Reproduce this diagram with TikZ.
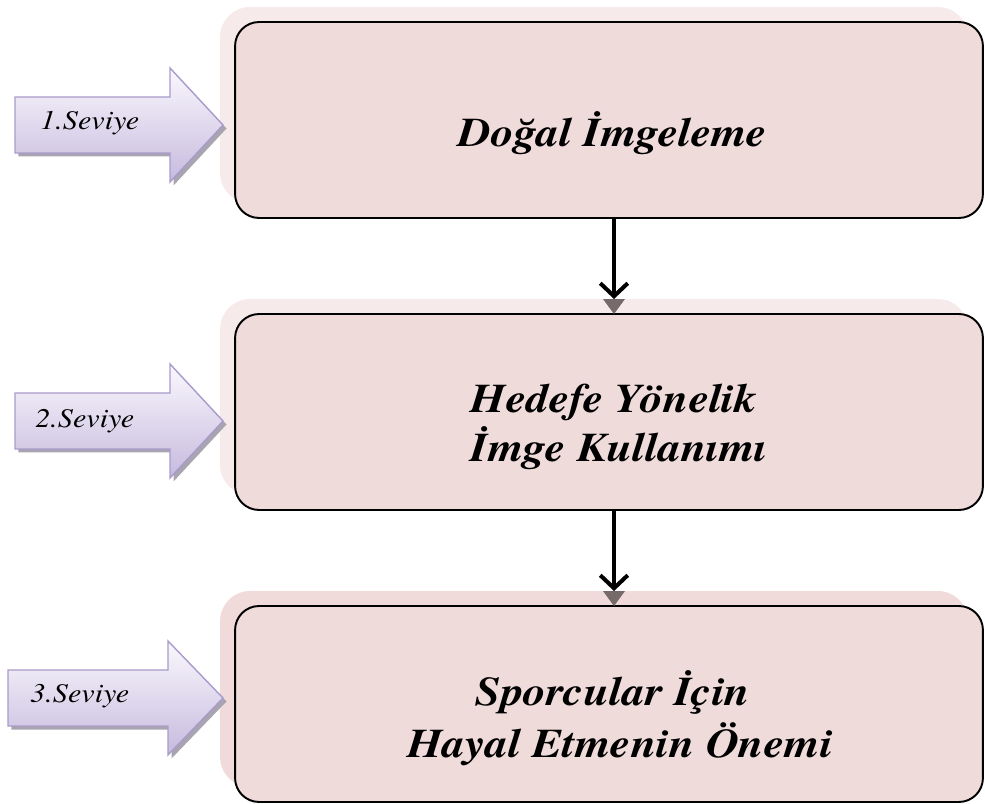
\documentclass[tikz,border=0pt]{standalone}
\usepackage{fontspec}
\setmainfont{texgyretermes}[Extension=.otf, UprightFont=*-regular, BoldFont=*-bold,
  ItalicFont=*-italic, BoldItalicFont=*-bolditalic]
\usetikzlibrary{arrows.meta,shadows}

\definecolor{boxfill}{HTML}{F0DBDB}
\definecolor{bglight}{HTML}{F6EAEA}
\definecolor{bgdark}{HTML}{F0DADA}
\definecolor{arrowtop}{HTML}{FAF8FD}
\definecolor{arrowbot}{HTML}{C6BADE}
\definecolor{arrowline}{HTML}{A99BCB}
\definecolor{arrowshadow}{HTML}{A8A4B0}
\definecolor{tipgray}{HTML}{766A6A}

\tikzset{
  stagebox/.style={draw=black, line width=1.1pt, fill=boxfill, rounded corners=0.48cm,
    minimum width=14.96cm, minimum height=3.92cm, outer sep=0pt, inner sep=0pt},
  stageback/.style={fill=#1, draw=none, rounded corners=0.6cm,
    minimum width=14.96cm, minimum height=3.92cm, outer sep=0pt, inner sep=0pt},
  stagetext/.style={anchor=base, inner sep=0pt, xscale=1.12, transform shape,
    font=\fontsize{23.2}{27.8}\selectfont\bfseries\itshape},
  levelarrow/.style={draw=arrowline, line width=0.8pt, top color=arrowtop, bottom color=arrowbot,
    general shadow={fill=arrowshadow, shadow xshift=0.07cm, shadow yshift=-0.07cm}},
  leveltext/.style={anchor=base west, inner sep=0pt, xscale=1.12, transform shape,
    font=\fontsize{15.3}{18}\selectfont\itshape},
  flow/.style={draw=black, line width=2.3pt, -{Straight Barb[length=0.26cm,width=0.55cm]}},
}

% block arrow: tail x, head x, centre y (tip at x = 223)
\newcommand\levelshape[3]{%
  \path[levelarrow] (#1,#3-28) -- (#2,#3-28) -- (#2,#3-57) -- (223,#3)
    -- (#2,#3+57) -- (#2,#3+28) -- (#1,#3+28) -- cycle;}

\begin{document}
\begin{tikzpicture}[x=0.02cm, y=-0.02cm]
\useasboundingbox (0,0) rectangle (985,804);

% back panels
\node[stageback=bglight] (g1) at (594,105) {};
\node[stageback=bglight] (g2) at (594,397) {};
\node[stageback=bgdark]  (g3) at (594,689) {};

% stage boxes
\node[stagebox] (b1) at (609,120) {};
\node[stagebox] (b2) at (609,412) {};
\node[stagebox] (b3) at (609,704) {};

\node[stagetext] (t1)  at (613,147) {Doğal İmgeleme};
\node[stagetext] (t2a) at (614,413) {Hedefe Yönelik};
\node[stagetext] (t2b) at (619,462) {İmge Kullanımı};
\node[stagetext] (t3a) at (613,705) {Sporcular İçin};
\node[stagetext] (t3b) at (620,757) {Hayal Etmenin Önemi};

% level arrows
\levelshape{15}{170}{125}
\levelshape{15}{170}{421}
\levelshape{8}{168}{698}
\node[leveltext] (l1) at (40,130) {1.Seviye};
\node[leveltext] (l2) at (35,428) {2.Seviye};
\node[leveltext] (l3) at (30,703) {3.Seviye};

% connectors between stages
\draw[flow] ([xshift=0.1cm]b1.south) -- ([xshift=0.1cm,yshift=0.3cm]b2.north);
\fill[tipgray] ([xshift=-0.12cm,yshift=0.3cm]b2.north) -- ([xshift=0.32cm,yshift=0.3cm]b2.north)
  -- ([xshift=0.1cm]b2.north) -- cycle;
\draw[flow] ([xshift=0.1cm]b2.south) -- ([xshift=0.1cm,yshift=0.3cm]b3.north);
\fill[tipgray] ([xshift=-0.12cm,yshift=0.3cm]b3.north) -- ([xshift=0.32cm,yshift=0.3cm]b3.north)
  -- ([xshift=0.1cm]b3.north) -- cycle;
\end{tikzpicture}
\end{document}
